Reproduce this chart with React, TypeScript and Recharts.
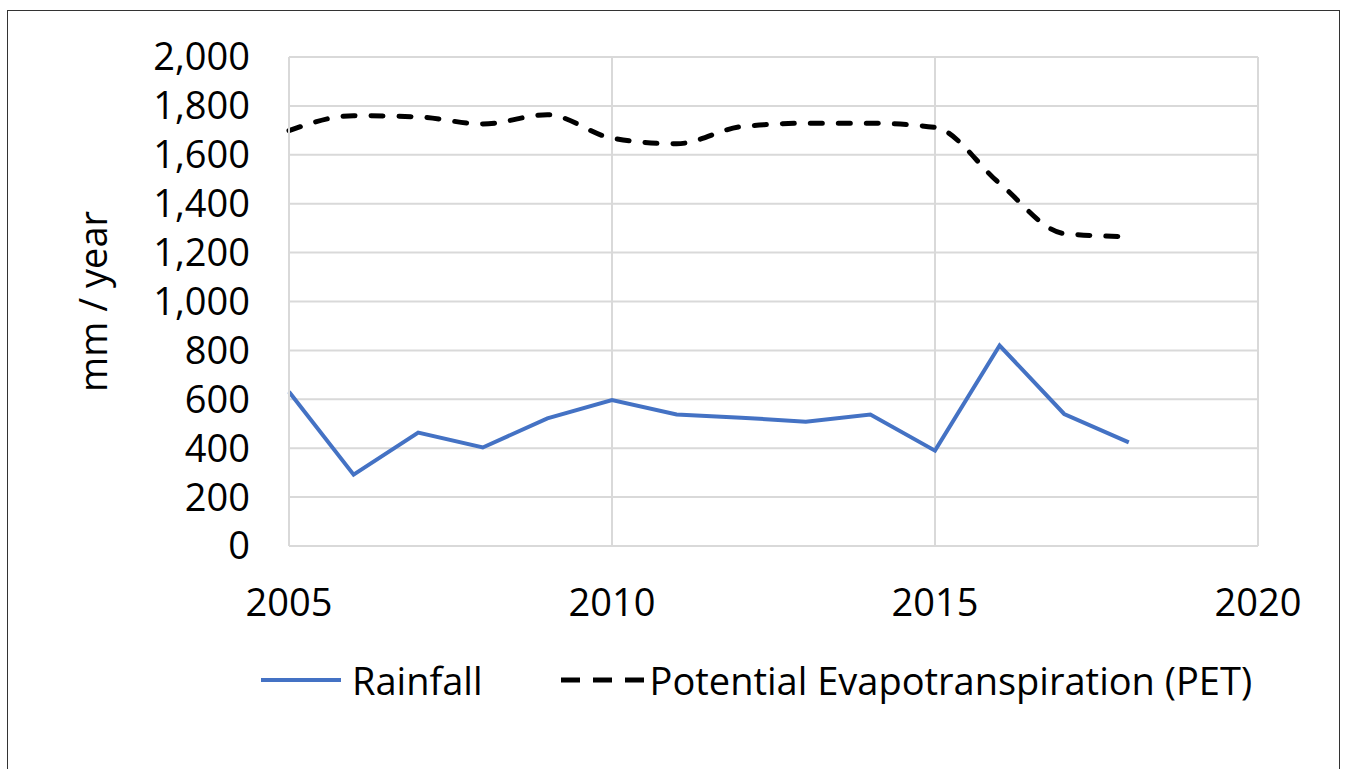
import React from 'react';
import { LineChart, Line, XAxis, YAxis, CartesianGrid } from 'recharts';

const years = [2005, 2006, 2007, 2008, 2009, 2010, 2011, 2012, 2013, 2014, 2015, 2016, 2017, 2018];
const rainfall = [631, 292, 464, 403, 522, 597, 538, 525, 508, 538, 390, 820, 540, 424];
const pet = [1699, 1760, 1755, 1726, 1764, 1668, 1645, 1715, 1729, 1729, 1712, 1483, 1278, 1265];

const xTicks = [2005, 2010, 2015, 2020];
const yTicks = [0, 200, 400, 600, 800, 1000, 1200, 1400, 1600, 1800, 2000];

const FONT = '"Open Sans", sans-serif';
const FS = 38;
const BLUE = '#4472C4';
const GRID = '#d9d9d9';

const data = years.map((year, i) => ({ year, rainfall: rainfall[i], pet: pet[i] }));

const fmt = (v: number) => v.toLocaleString('en-US');

export default function App() {
  return (
    <div
      style={{
        position: 'absolute',
        left: 7,
        top: 10,
        width: 1331,
        height: 770,
        border: '1px solid #333',
        background: '#fff',
        fontFamily: FONT,
      }}
    >
      <LineChart
        width={1331}
        height={760}
        data={data}
        margin={{ top: 46, right: 81, left: 0, bottom: 165 }}
      >
        <CartesianGrid stroke={GRID} strokeWidth={2} />
        <XAxis
          dataKey="year"
          type="number"
          domain={[2005, 2020]}
          ticks={xTicks}
          height={60}
          tickLine={false}
          tickSize={0}
          tickMargin={43}
          axisLine={{ stroke: GRID, strokeWidth: 2 }}
          tick={{ fill: '#000', fontSize: FS, fontFamily: FONT }}
        />
        <YAxis
          domain={[0, 2000]}
          ticks={yTicks}
          width={281}
          tickLine={false}
          tickSize={0}
          tickMargin={39}
          interval={0}
          tickFormatter={fmt}
          axisLine={{ stroke: GRID, strokeWidth: 2 }}
          tick={{ fill: '#000', fontSize: FS, fontFamily: FONT }}
          label={{
            content: ({ viewBox }: any) => {
              const cy = viewBox.y + viewBox.height / 2;
              return (
                <text
                  x={84}
                  y={cy}
                  transform={`rotate(-90, 84, ${cy})`}
                  textAnchor="middle"
                  dominantBaseline="central"
                  fontSize={FS}
                  fontFamily={FONT}
                  fill="#000"
                >
                  mm / year
                </text>
              );
            },
          }}
        />
        <Line
          dataKey="rainfall"
          type="linear"
          stroke={BLUE}
          strokeWidth={4}
          dot={false}
          isAnimationActive={false}
        />
        <Line
          dataKey="pet"
          type="monotone"
          stroke="#000"
          strokeWidth={5}
          strokeDasharray="12 16"
          strokeLinecap="round"
          dot={false}
          isAnimationActive={false}
        />
      </LineChart>
      <div
        style={{
          position: 'absolute',
          top: 643,
          left: 252,
          display: 'flex',
          alignItems: 'center',
          fontSize: FS,
          color: '#000',
          whiteSpace: 'nowrap',
        }}
      >
        <svg width={82} height={10} style={{ marginRight: 10 }}>
          <line x1={1} y1={5} x2={81} y2={5} stroke={BLUE} strokeWidth={4} />
        </svg>
        <span>Rainfall</span>
        <svg width={86} height={10} style={{ marginLeft: 75, marginRight: 6 }}>
          <line x1={3} y1={5} x2={86} y2={5} stroke="#000" strokeWidth={5} strokeDasharray="19 13" />
        </svg>
        <span>Potential Evapotranspiration (PET)</span>
      </div>
    </div>
  );
}
